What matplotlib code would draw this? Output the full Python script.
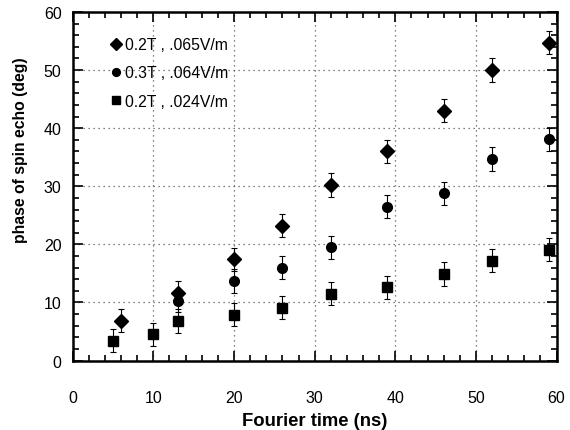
"""Phase of spin echo vs Fourier time, three field/gradient settings."""
import numpy as np
import matplotlib
matplotlib.use("Agg")
import matplotlib.pyplot as plt
from matplotlib.ticker import MultipleLocator

plt.rcParams["font.family"] = ["Liberation Sans", "DejaVu Sans"]

# --- data ------------------------------------------------------------------
t_a   = [6, 13, 20, 26, 32, 39, 46, 52, 59]
ph_a  = [6.9, 11.7, 17.4, 23.2, 30.2, 36.0, 43.0, 50.0, 54.7]
err_a = [2.0, 2.0, 2.0, 2.0, 2.0, 2.0, 2.0, 2.0, 2.0]

t_b   = [13, 20, 26, 32, 39, 46, 52, 59]
ph_b  = [10.2, 13.7, 16.0, 19.5, 26.5, 28.8, 34.7, 38.1]
err_b = [1.8, 2.0, 2.0, 2.0, 2.0, 2.0, 2.0, 2.0]

t_c   = [5, 10, 13, 20, 26, 32, 39, 46, 52, 59]
ph_c  = [3.4, 4.5, 6.8, 7.9, 9.1, 11.5, 12.6, 14.9, 17.2, 19.1]
err_c = [2.0, 2.0, 2.0, 2.0, 2.0, 2.0, 2.0, 2.0, 2.0, 2.0]

labels = ["0.2T , .065V/m", "0.3T , .064V/m", "0.2T , .024V/m"]
markers = ["D", "o", "s"]
msizes = [7.5, 7, 7.5]

fig = plt.figure(figsize=(5.70, 4.31), dpi=100)
ax = fig.add_axes([0.1275, 0.161, 0.849, 0.809])

series = [(t_a, ph_a, err_a), (t_b, ph_b, err_b), (t_c, ph_c, err_c)]
for (t, ph, err), lab, mk, ms in zip(series, labels, markers, msizes):
    ax.errorbar(t, ph, yerr=err, fmt="none", ecolor="black",
                elinewidth=0.8, capsize=2.5, capthick=0.8)
    ax.plot(t, ph, linestyle="none", marker=mk, markersize=ms,
            color="black", label=lab)

ax.set_xlim(0, 60)
ax.set_ylim(0, 60)
ax.xaxis.set_major_locator(MultipleLocator(10))
ax.yaxis.set_major_locator(MultipleLocator(10))
ax.xaxis.set_minor_locator(MultipleLocator(2))
ax.yaxis.set_minor_locator(MultipleLocator(2))
ax.tick_params(which="both", direction="in", top=True, right=True,
               width=1.2, labelsize=11.5)
ax.tick_params(which="major", length=7)
ax.tick_params(which="minor", length=4)
ax.tick_params(axis="x", which="major", pad=21)
ax.tick_params(axis="y", which="major", pad=8)
for s in ax.spines.values():
    s.set_linewidth(1.8)

ax.grid(True, which="major", linestyle=(0, (1, 3)), color="0.35", linewidth=0.9)

ax.set_xlabel("Fourier time (ns)", fontsize=13.3, fontweight="bold", labelpad=5)
ax.set_ylabel("phase of spin echo (deg)", fontsize=11.3, fontweight="bold")
ax.yaxis.set_label_coords(-0.092, 0.607)

ax.legend(loc="upper left", bbox_to_anchor=(0.06, 0.955), frameon=False,
          fontsize=11.3, handlelength=0.6, handletextpad=0.3,
          labelspacing=0.85, borderaxespad=0.2, markerscale=0.8)

fig.savefig("out.png", dpi=100)
